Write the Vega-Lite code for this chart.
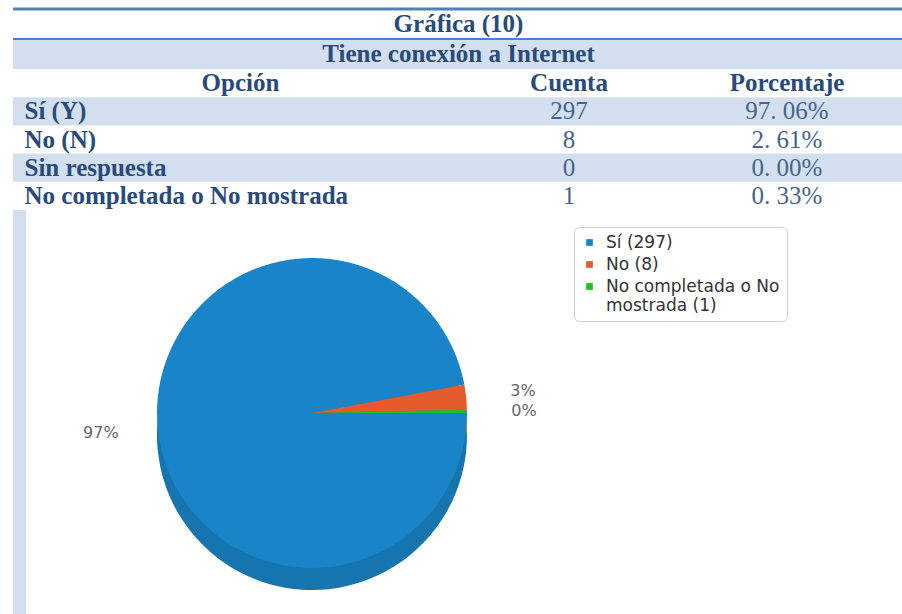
{
  "$schema": "https://vega.github.io/schema/vega-lite/v6.json",
  "padding": {"left": 11, "top": 7, "right": 0, "bottom": 0},
  "background": "#ffffff",
  "config": {"view": {"stroke": null}},
  "datasets": {
    "respuestas": [
      {"opcion": "Sí (Y)", "leyenda": "Sí (297)", "cuenta": 297},
      {"opcion": "No (N)", "leyenda": "No (8)", "cuenta": 8},
      {"opcion": "Sin respuesta", "leyenda": "Sin respuesta (0)", "cuenta": 0},
      {"opcion": "No completada o No mostrada", "leyenda": "No completada o No mostrada (1)", "cuenta": 1}
    ],
    "titulos": [
      {"titulo": "Gráfica (10)"},
      {"titulo": "Tiene conexión a Internet"}
    ],
    "encabezado": [
      {"opcion": "Opción", "cuenta": "Cuenta", "porcentaje": "Porcentaje"}
    ]
  },
  "spacing": 0,
  "vconcat": [
    {
      "width": 891,
      "height": 60,
      "data": {"name": "titulos"},
      "layer": [
        {
          "transform": [{"filter": "datum.titulo == 'Tiene conexión a Internet'"}],
          "mark": {"type": "rect", "color": "#d3dfee"},
          "encoding": {"y": {"field": "titulo", "type": "nominal", "axis": null, "sort": null, "scale": {"domain": ["Gráfica (10)", "Tiene conexión a Internet"], "paddingInner": 0, "paddingOuter": 0}}}
        },
        {
          "transform": [{"filter": "datum.titulo == 'Gráfica (10)'"}],
          "mark": {"type": "rule", "color": "#4f81bd", "strokeWidth": 3},
          "encoding": {"y": {"field": "titulo", "type": "nominal", "axis": null, "sort": null, "bandPosition": 0}}
        },
        {
          "transform": [{"filter": "datum.titulo == 'Tiene conexión a Internet'"}],
          "mark": {"type": "rule", "color": "#4f81bd", "strokeWidth": 2},
          "encoding": {"y": {"field": "titulo", "type": "nominal", "axis": null, "sort": null, "bandPosition": 0}}
        },
        {
          "mark": {"type": "text", "font": "Liberation Serif", "fontWeight": "bold", "fontSize": 25, "color": "#284a7c"},
          "encoding": {
            "y": {"field": "titulo", "type": "nominal", "axis": null, "sort": null},
            "text": {"field": "titulo"}
          }
        }
      ]
    },
    {
      "spacing": 0,
      "hconcat": [
        {
          "width": 455,
          "height": 141,
          "layer": [
            {
              "data": {"name": "respuestas"},
              "transform": [{"filter": {"field": "opcion", "oneOf": ["Sí (Y)", "Sin respuesta"]}}],
              "mark": {"type": "rect", "color": "#d3dfee"},
              "encoding": {"y": {"field": "opcion", "type": "nominal", "axis": null, "sort": null, "scale": {"domain": ["Opción", "Sí (Y)", "No (N)", "Sin respuesta", "No completada o No mostrada"], "paddingInner": 0, "paddingOuter": 0}}}
            },
            {
              "data": {"name": "encabezado"},
              "mark": {"type": "text", "font": "Liberation Serif", "fontWeight": "bold", "fontSize": 25, "color": "#284a7c"},
              "encoding": {
                "y": {"field": "opcion", "type": "nominal", "axis": null, "sort": null},
                "text": {"field": "opcion"}
              }
            },
            {
              "data": {"name": "respuestas"},
              "mark": {"type": "text", "align": "left", "dx": -216, "font": "Liberation Serif", "fontWeight": "bold", "fontSize": 25, "color": "#284a7c"},
              "encoding": {
                "y": {"field": "opcion", "type": "nominal", "axis": null, "sort": null},
                "text": {"field": "opcion"}
              }
            }
          ]
        },
        {
          "width": 202,
          "height": 141,
          "layer": [
            {
              "data": {"name": "respuestas"},
              "transform": [{"filter": {"field": "opcion", "oneOf": ["Sí (Y)", "Sin respuesta"]}}],
              "mark": {"type": "rect", "color": "#d3dfee"},
              "encoding": {"y": {"field": "opcion", "type": "nominal", "axis": null, "sort": null, "scale": {"domain": ["Opción", "Sí (Y)", "No (N)", "Sin respuesta", "No completada o No mostrada"], "paddingInner": 0, "paddingOuter": 0}}}
            },
            {
              "data": {"name": "encabezado"},
              "mark": {"type": "text", "font": "Liberation Serif", "fontWeight": "bold", "fontSize": 25, "color": "#284a7c"},
              "encoding": {
                "y": {"field": "opcion", "type": "nominal", "axis": null, "sort": null},
                "text": {"field": "cuenta", "type": "nominal"}
              }
            },
            {
              "data": {"name": "respuestas"},
              "mark": {"type": "text", "font": "Liberation Serif", "fontSize": 25, "color": "#46638f"},
              "encoding": {
                "y": {"field": "opcion", "type": "nominal", "axis": null, "sort": null},
                "text": {"field": "cuenta", "type": "quantitative"}
              }
            }
          ]
        },
        {
          "width": 234,
          "height": 141,
          "layer": [
            {
              "data": {"name": "respuestas"},
              "transform": [{"filter": {"field": "opcion", "oneOf": ["Sí (Y)", "Sin respuesta"]}}],
              "mark": {"type": "rect", "color": "#d3dfee"},
              "encoding": {"y": {"field": "opcion", "type": "nominal", "axis": null, "sort": null, "scale": {"domain": ["Opción", "Sí (Y)", "No (N)", "Sin respuesta", "No completada o No mostrada"], "paddingInner": 0, "paddingOuter": 0}}}
            },
            {
              "data": {"name": "encabezado"},
              "mark": {"type": "text", "font": "Liberation Serif", "fontWeight": "bold", "fontSize": 25, "color": "#284a7c"},
              "encoding": {
                "y": {"field": "opcion", "type": "nominal", "axis": null, "sort": null},
                "text": {"field": "porcentaje", "type": "nominal"}
              }
            },
            {
              "data": {"name": "respuestas"},
              "transform": [
                {"joinaggregate": [{"op": "sum", "field": "cuenta", "as": "total"}]},
                {"calculate": "replace(format(datum.cuenta / datum.total, '.2%'), '.', '. ')", "as": "porcentaje"}
              ],
              "mark": {"type": "text", "font": "Liberation Serif", "fontSize": 25, "color": "#46638f"},
              "encoding": {
                "y": {"field": "opcion", "type": "nominal", "axis": null, "sort": null},
                "text": {"field": "porcentaje", "type": "nominal"}
              }
            }
          ]
        }
      ]
    },
    {
      "spacing": 0,
      "hconcat": [
        {
          "width": 13,
          "height": 406,
          "view": {"fill": "#d3dfee", "stroke": null},
          "data": {"name": "titulos"},
          "mark": {"type": "text", "text": ""},
          "encoding": {}
        },
        {
          "width": 572,
          "height": 406,
          "data": {"name": "respuestas"},
          "transform": [
            {"filter": "datum.cuenta > 0"},
            {"joinaggregate": [{"op": "sum", "field": "cuenta", "as": "total"}]},
            {"calculate": "format(datum.cuenta / datum.total, '.0%')", "as": "etiqueta"}
          ],
          "encoding": {
            "theta": {"field": "cuenta", "type": "quantitative", "stack": true, "scale": {"range": [1.5708, 7.854]}},
            "order": {"field": "cuenta", "type": "quantitative", "sort": "descending"}
          },
          "layer": [
            {
              "mark": {"type": "arc", "outerRadius": 155, "yOffset": 22},
              "encoding": {
                "color": {
                  "field": "leyenda", "type": "nominal", "sort": null,
                  "scale": {"domain": ["Sí (297)", "No (8)", "No completada o No mostrada (1)"], "range": ["#1a84c8", "#e55b2e", "#1ec01e"]},
                  "legend": {
                    "orient": "none", "legendX": 561, "legendY": 218, "title": null,
                    "symbolType": "square", "symbolSize": 45, "labelFont": "DejaVu Sans", "labelFontSize": 17, "labelColor": "#333333",
                    "fillColor": "#ffffff", "strokeColor": "#d0d0d0", "cornerRadius": 5, "padding": 7, "rowPadding": 4, "labelOffset": 8, "labelLimit": 300,
                    "labelExpr": "datum.label == 'No completada o No mostrada (1)' ? ['No completada o No', 'mostrada (1)'] : datum.label"
                  }
                }
              }
            },
            {
              "mark": {"type": "arc", "outerRadius": 155, "yOffset": 22, "fill": "#000000", "opacity": 0.12}
            },
            {
              "mark": {"type": "arc", "outerRadius": 155},
              "encoding": {
                "color": {"field": "leyenda", "type": "nominal", "sort": null}
              }
            },
            {
              "mark": {"type": "text", "radius": 212, "font": "DejaVu Sans", "fontSize": 16, "color": "#666666"},
              "encoding": {"text": {"field": "etiqueta"}}
            }
          ]
        }
      ]
    }
  ]
}
